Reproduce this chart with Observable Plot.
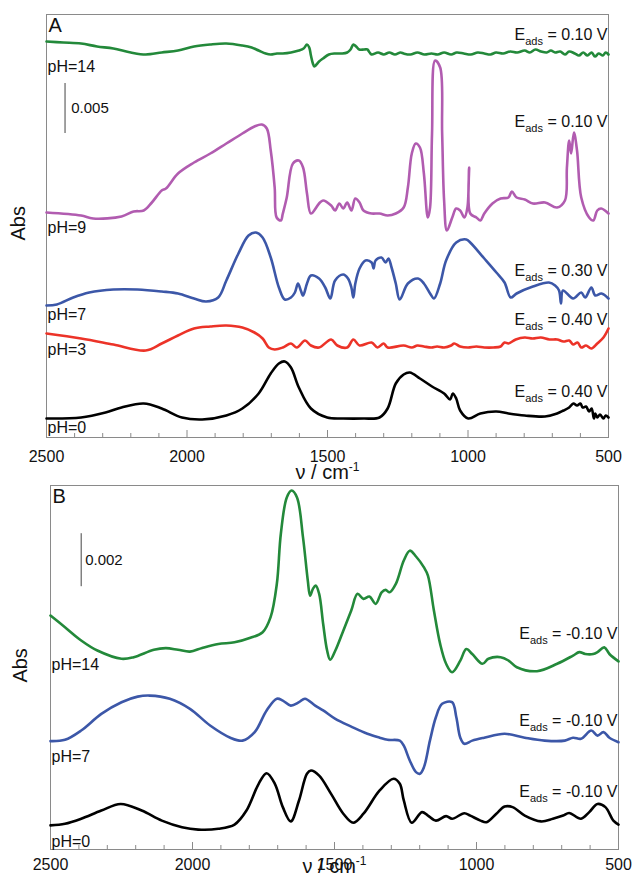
<!DOCTYPE html>
<html><head><meta charset="utf-8">
<script src="https://cdn.jsdelivr.net/npm/d3@7"></script>
<script src="https://cdn.jsdelivr.net/npm/@observablehq/plot@0.6"></script>
<style>
body{margin:0;background:#fff;}
#wrap{position:relative;width:632px;height:883px;font-family:"Liberation Sans",Arial,sans-serif;}
#wrap svg{position:absolute;left:0;}
</style></head><body><div id="wrap"></div>
<script>
// ---------- tick values (cm-1) ----------
const ticksMajor = [2500, 2000, 1500, 1000, 500];
const ticksMinor = [2400, 2300, 2200, 2100, 1900, 1800, 1700, 1600, 1400, 1300, 1200, 1100, 900, 800, 700, 600];

// ---------- Panel A series: [wavenumber, absorbance (mAbs, stacked)] ----------
const A_pH14 = [[2500,39.6],[2440,39.5],[2377,39.4],[2320,39.1],[2262,38.9],[2200,38.5],[2147,38.3],[2090,38.5],[2032,38.7],[1975,39.1],[1918,39.3],[1860,39.4],[1803,39.2],[1770,39.0],[1745,38.7],[1720,38.4],[1702,38.3],[1680,38.4],[1659,38.4],[1630,38.5],[1602,38.7],[1585,38.9],[1573,39.3],[1565,39.0],[1559,38.2],[1552,37.4],[1547,37.1],[1530,37.6],[1516,37.9],[1495,38.3],[1473,38.4],[1450,38.4],[1430,38.5],[1418,38.8],[1408,39.3],[1398,39.1],[1387,38.8],[1370,38.8],[1358,38.8],[1350,38.5],[1343,38.3],[1320,38.5],[1300,38.3],[1280,38.5],[1260,38.3],[1240,38.5],[1229,38.4],[1205,38.3],[1180,38.5],[1155,38.3],[1130,38.4],[1108,38.3],[1085,38.5],[1060,38.3],[1040,38.5],[1015,38.4],[990,38.3],[965,38.5],[942,38.4],[920,38.3],[900,38.5],[875,38.4],[850,38.6],[825,38.5],[798,38.7],[780,38.5],[760,38.8],[740,38.6],[720,38.5],[705,38.7],[690,38.5],[672,38.6],[655,38.3],[640,38.6],[620,38.4],[605,38.2],[590,38.5],[575,38.2],[560,38.5],[548,38.1],[535,38.4],[520,38.2],[510,38.5],[500,38.3]];
const A_pH9 = [[2500,22.5],[2377,22.2],[2334,21.9],[2233,22.1],[2190,22.6],[2154,22.7],[2125,23.5],[2090,24.7],[2075,24.9],[2032,26.4],[1975,27.5],[1917,28.4],[1860,29.4],[1803,30.4],[1760,31.1],[1734,31.3],[1716,30.9],[1702,28.7],[1688,25.0],[1681,22.0],[1666,21.7],[1659,22.4],[1645,24.0],[1623,27.4],[1602,27.7],[1587,27.0],[1573,24.4],[1559,22.4],[1530,23.4],[1516,23.7],[1487,23.2],[1473,22.7],[1458,23.4],[1444,22.9],[1430,23.5],[1415,22.7],[1401,23.9],[1386,23.5],[1372,22.7],[1343,22.4],[1315,22.4],[1286,22.2],[1257,22.4],[1229,23.0],[1214,25.0],[1200,28.4],[1186,29.4],[1171,29.0],[1157,26.4],[1143,22.0],[1135,23.0],[1128,30.4],[1117,37.7],[1099,37.0],[1092,30.4],[1085,23.7],[1075,20.7],[1056,22.0],[1042,22.9],[1028,22.7],[1013,22.0],[1002,23.0],[996,27.0],[992,22.4],[970,22.0],[956,21.7],[942,22.4],[913,23.4],[884,23.9],[856,24.0],[844,24.6],[827,24.0],[798,23.8],[769,23.4],[726,23.5],[683,23.0],[655,23.7],[648,27.0],[640,29.7],[633,28.4],[623,30.5],[612,28.7],[597,24.0],[569,22.0],[554,21.7],[540,22.7],[526,22.9],[500,22.4]];
const A_pH7 = [[2500,13.2],[2463,13.3],[2405,14.0],[2348,14.5],[2262,14.8],[2176,14.8],[2090,14.6],[2032,14.4],[1975,13.9],[1932,13.6],[1889,14.0],[1860,15.7],[1817,18.4],[1781,20.2],[1755,20.5],[1731,20.0],[1702,18.0],[1673,15.0],[1652,13.8],[1630,14.0],[1616,14.5],[1605,15.4],[1595,14.7],[1587,14.2],[1573,15.4],[1559,16.2],[1530,15.9],[1508,15.0],[1490,13.9],[1473,15.7],[1444,16.3],[1427,15.9],[1415,15.0],[1408,14.0],[1401,15.4],[1386,16.9],[1365,17.7],[1343,17.5],[1336,16.9],[1329,17.7],[1308,18.0],[1293,17.5],[1283,17.9],[1272,17.0],[1257,15.4],[1243,13.8],[1214,15.4],[1178,15.9],[1157,15.4],[1135,14.4],[1121,13.9],[1099,15.4],[1078,17.7],[1042,19.5],[1006,19.8],[992,19.5],[942,17.9],[899,16.5],[870,15.5],[848,14.0],[827,14.4],[769,15.1],[712,15.5],[690,15.2],[676,14.7],[669,13.4],[662,14.7],[626,13.9],[597,14.5],[583,14.0],[561,15.0],[547,14.2],[525,14.4],[500,13.9]];
const A_pH3 = [[2500,10.4],[2377,9.9],[2262,9.3],[2147,8.7],[2090,9.4],[2032,10.2],[1975,10.9],[1917,11.1],[1860,11.2],[1803,11.0],[1760,10.5],[1731,9.9],[1709,9.0],[1688,8.8],[1659,9.0],[1630,9.4],[1609,9.0],[1580,9.7],[1559,9.2],[1530,9.0],[1487,9.8],[1465,9.2],[1430,9.0],[1408,9.8],[1386,9.2],[1343,9.5],[1322,9.0],[1300,9.4],[1286,9.0],[1229,9.2],[1200,9.0],[1180,9.2],[1157,9.1],[1130,9.0],[1110,9.1],[1085,9.0],[1060,9.2],[1049,9.4],[1028,9.1],[1000,9.0],[970,9.1],[942,9.0],[910,9.0],[884,9.1],[870,9.5],[856,9.4],[830,9.8],[798,10.0],[770,9.9],[741,10.0],[710,9.8],[683,9.8],[660,9.6],[640,9.7],[626,9.3],[610,9.5],[597,9.0],[580,9.2],[561,8.9],[540,9.4],[518,10.0],[500,10.9]];
const A_pH0 = [[2500,1.9],[2377,2.0],[2290,2.5],[2233,3.0],[2154,3.4],[2090,2.9],[2018,2.0],[1946,1.8],[1860,2.2],[1803,2.9],[1745,4.4],[1702,6.4],[1673,7.4],[1652,7.6],[1630,7.0],[1602,5.0],[1559,2.9],[1501,2.0],[1444,1.9],[1372,1.9],[1315,2.0],[1286,2.9],[1257,5.4],[1229,6.3],[1207,6.5],[1171,5.9],[1128,5.1],[1085,4.4],[1064,3.8],[1054,4.4],[1042,3.9],[1028,2.7],[999,1.9],[956,2.4],[899,2.6],[856,2.4],[798,2.2],[726,2.1],[683,2.4],[660,2.7],[640,3.0],[625,3.4],[612,3.2],[600,3.4],[592,3.0],[580,3.1],[569,2.6],[560,2.9],[552,1.9],[547,2.4],[540,2.0],[530,2.3],[518,1.9],[510,2.2],[500,2.0]];

// ---------- Panel B series ----------
const B_pH14 = [[2500,8.83],[2449,8.39],[2392,7.89],[2335,7.51],[2250,7.20],[2207,7.26],[2136,7.54],[2094,7.60],[2051,7.54],[2009,7.47],[1966,7.61],[1909,7.76],[1852,7.82],[1796,7.99],[1753,8.20],[1725,8.77],[1703,10.03],[1689,11.91],[1668,13.29],[1651,13.55],[1632,13.29],[1611,11.79],[1594,10.15],[1586,9.58],[1576,9.84],[1566,9.96],[1554,9.65],[1540,8.52],[1526,7.51],[1515,7.16],[1497,7.51],[1469,8.26],[1441,9.02],[1419,9.65],[1398,9.46],[1377,9.55],[1355,9.27],[1334,9.71],[1320,9.80],[1306,9.71],[1284,10.03],[1256,10.91],[1235,11.28],[1213,11.06],[1185,10.65],[1171,10.34],[1150,9.02],[1128,7.76],[1107,7.01],[1086,6.69],[1057,7.13],[1036,7.57],[1015,7.38],[979,7.01],[958,7.20],[915,7.26],[887,7.13],[858,6.88],[787,6.73],[716,7.01],[660,7.32],[638,7.45],[617,7.38],[589,7.38],[574,7.45],[550,7.63],[532,7.38],[500,7.10]];
const B_pH7 = [[2500,4.09],[2449,4.14],[2392,4.49],[2321,5.12],[2250,5.56],[2193,5.77],[2151,5.81],[2080,5.69],[2009,5.31],[1938,4.68],[1867,4.22],[1824,4.11],[1781,4.43],[1739,5.25],[1703,5.69],[1682,5.62],[1654,5.43],[1625,5.56],[1604,5.69],[1568,5.43],[1540,5.25],[1497,4.93],[1441,4.64],[1384,4.37],[1341,4.22],[1313,4.14],[1270,4.11],[1256,3.92],[1235,3.36],[1213,2.92],[1199,2.86],[1185,3.11],[1164,4.11],[1143,4.99],[1121,5.50],[1086,5.56],[1071,4.99],[1057,4.22],[1043,3.99],[1015,4.11],[973,4.22],[901,4.37],[830,4.22],[760,4.11],[689,4.11],[660,4.22],[632,4.18],[596,4.49],[574,4.30],[553,4.43],[532,4.22],[500,4.05]];
const B_pH0 = [[2500,0.91],[2449,0.97],[2392,1.16],[2321,1.47],[2253,1.72],[2179,1.47],[2108,1.09],[2037,0.84],[1980,0.75],[1909,0.78],[1852,0.94],[1810,1.47],[1767,2.48],[1739,2.88],[1710,2.48],[1682,1.60],[1654,1.06],[1625,1.85],[1597,2.86],[1583,2.98],[1554,2.79],[1512,2.10],[1469,1.35],[1434,1.01],[1398,1.35],[1341,2.23],[1292,2.67],[1270,2.48],[1256,1.85],[1228,1.01],[1192,1.41],[1171,1.28],[1143,1.09],[1107,1.26],[1086,1.16],[1043,1.37],[1022,1.28],[986,1.09],[965,1.03],[930,1.35],[901,1.62],[873,1.60],[830,1.28],[773,1.06],[731,1.16],[695,1.28],[674,1.38],[632,1.16],[603,1.41],[574,1.72],[546,1.60],[518,1.09],[500,0.94]];

// ---------- annotations ----------
const phLabelsA = [["pH=14",37.05],["pH=9",20.95],["pH=7",12.3],["pH=3",8.8],["pH=0",0.95]];
const eLabelsA = [["Eads = 0.10 V",40.3],["Eads = 0.10 V",31.6],["Eads = 0.30 V",16.7],["Eads = 0.40 V",11.8],["Eads = 0.40 V",4.55]];
const phLabelsB = [["pH=14",6.98],["pH=7",3.49],["pH=0",0.30]];
const eLabelsB = [["Eads = -0.10 V",8.13],["Eads = -0.10 V",4.87],["Eads = -0.10 V",2.17]];
const scaleBarA = {nu: 2434, v1: 30.4, v2: 35.4, label: "0.005", labelNu: 2412};
const scaleBarB = {nu: 2392, v1: 9.92, v2: 11.92, label: "0.002", labelNu: 2378};

const seriesA = [["pH=14", A_pH14], ["pH=9", A_pH9], ["pH=7", A_pH7], ["pH=3", A_pH3], ["pH=0", A_pH0]];
const seriesB = [["pH=14", B_pH14], ["pH=7", B_pH7], ["pH=0", B_pH0]];
const colorDomain = ["pH=14", "pH=9", "pH=7", "pH=3", "pH=0"];
const colorRange = ["#23893a", "#b15cb0", "#3c57a8", "#ec3328", "#000000"];

const FONT = '"Liberation Sans", Arial, sans-serif';

function rows(series) {
  return series.flatMap(([name, pts]) => pts.map(([nu, v]) => ({series: name, nu, v})));
}

function panel({series, yMax, phLabels, eLabels, bar, letter, abs, cfg}) {
  return Plot.plot({
    width: 632, height: cfg.height,
    marginTop: cfg.mt, marginBottom: cfg.mb, marginLeft: cfg.ml, marginRight: cfg.mr,
    style: {fontFamily: FONT, fontSize: "16px", background: "transparent", overflow: "visible", color: "#111"},
    x: {domain: [2500, 500], axis: null},
    y: {domain: [0, yMax], axis: null},
    color: {domain: colorDomain, range: colorRange},
    marks: [
      Plot.frame({stroke: "#8a8a8a", strokeWidth: 1}),
      Plot.axisX(ticksMinor, {tickSize: -4, tickFormat: () => "", stroke: "#8a8a8a"}),
      Plot.axisX(ticksMajor, {tickSize: -7, tickPadding: cfg.tickOff + 7, tickFormat: d3.format("d"), stroke: "#8a8a8a", fill: "#111", fontSize: 16}),
      Plot.line(rows(series), {x: "nu", y: "v", z: "series", stroke: "series", strokeWidth: 2.6, curve: "catmull-rom"}),
      Plot.ruleX([bar], {x: "nu", y1: "v1", y2: "v2", stroke: "#444", strokeWidth: 1}),
      Plot.text([bar], {x: "labelNu", y: d => (d.v1 + d.v2) / 2, text: "label", textAnchor: "start", fontSize: 15, fill: "#111"}),
      Plot.text(phLabels, {x: () => 2500, y: d => d[1], text: d => d[0], textAnchor: "start", dx: 1, fontSize: 16, fill: "#111"}),
      Plot.text(eLabels, {x: () => 500, y: d => d[1], text: d => d[0], textAnchor: "end", dx: -1, fontSize: 16, fill: "#111"}),
      Plot.text([letter], {frameAnchor: "top-left", text: d => d, dx: 2, dy: 3, lineAnchor: "top", fontSize: 20, fill: "#111"}),
      Plot.text([abs], {y: d => d.v, text: d => d.t, frameAnchor: "left", dx: cfg.absDx, rotate: -90, fontSize: 20, fill: "#111"}),
      Plot.text(["ν / cm-1"], {frameAnchor: "bottom", text: d => d, dy: cfg.xlabDy, fontSize: 20, fill: "#111"})
    ]
  });
}

function fixText(svg) {
  const ns = "http://www.w3.org/2000/svg";
  svg.querySelectorAll("text").forEach(t => {
    const s = t.textContent;
    if (s.startsWith("Eads")) {
      t.textContent = "";
      const a = document.createElementNS(ns, "tspan"); a.textContent = "E";
      const b = document.createElementNS(ns, "tspan"); b.textContent = "ads"; b.setAttribute("font-size", "11"); b.setAttribute("dy", "5");
      const c = document.createElementNS(ns, "tspan"); c.textContent = s.slice(4); c.setAttribute("dy", "-5");
      t.append(a, b, c);
    } else if (s === "ν / cm-1") {
      t.textContent = "";
      const a = document.createElementNS(ns, "tspan"); a.textContent = "ν / cm";
      const b = document.createElementNS(ns, "tspan"); b.textContent = "-1"; b.setAttribute("font-size", "12"); b.setAttribute("dy", "-8");
      t.append(a, b);
    }
  });
}

const wrap = document.getElementById("wrap");
const svgA = panel({series: seriesA, yMax: 42.3, phLabels: phLabelsA, eLabels: eLabelsA, bar: scaleBarA, letter: "A",
  abs: {t: "Abs", v: 19.7},
  cfg: {height: 490, mt: 14, mb: 53, ml: 46, mr: 24, tickOff: 13, absDx: -28, xlabDy: 41}});
const svgB = panel({series: seriesB, yMax: 13.74, phLabels: phLabelsB, eLabels: eLabelsB, bar: scaleBarB, letter: "B",
  abs: {t: "Abs", v: 6.3},
  cfg: {height: 403, mt: 5, mb: 34, ml: 50, mr: 14, tickOff: 9, absDx: -30, xlabDy: 23}});
fixText(svgA); fixText(svgB);
svgA.style.top = "0px";
svgB.style.top = "480px";
svgB.style.position = "absolute";
svgA.style.position = "absolute";
wrap.append(svgA, svgB);
</script></body></html>
